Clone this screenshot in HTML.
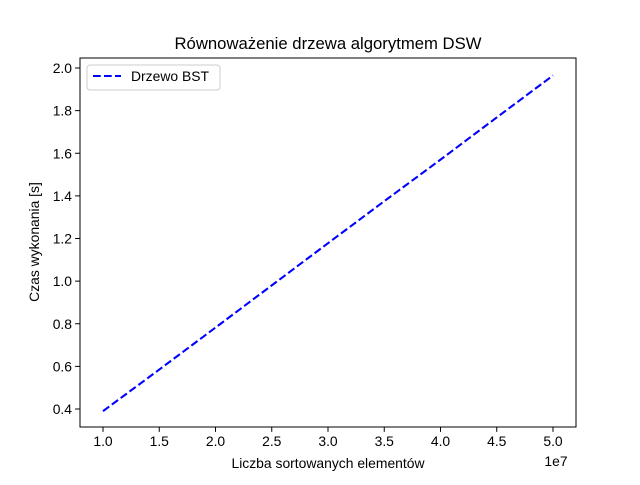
<!DOCTYPE html>
<html><head><meta charset="utf-8"><style>body{margin:0;background:#fff}svg{font-family:"Liberation Sans","DejaVu Sans",sans-serif}</style></head>
<body>
<svg id="chart" width="640" height="480">
<rect x="0" y="0" width="640" height="480" fill="#fff"/>
<text x="328" y="49" font-size="16.7" text-anchor="middle">Równoważenie drzewa algorytmem DSW</text>
<g id="plot"></g>
<rect x="80" y="58" width="496" height="369" fill="none" stroke="#000" stroke-width="1"/>
<text x="328" y="468" font-size="13.9" text-anchor="middle">Liczba sortowanych elementów</text>
<text x="556" y="466" font-size="13.9" text-anchor="middle">1e7</text>
<text transform="translate(39,242) rotate(-90)" font-size="13.9" text-anchor="middle">Czas wykonania [s]</text>
<g>
<rect x="87" y="65" width="133" height="25" rx="3" fill="#fff" stroke="#ccc"/>
<line x1="93" y1="76" x2="121" y2="76" stroke="#0000ff" stroke-width="2.08" stroke-dasharray="7.7,3.3"/>
<text x="131" y="81" font-size="13.9">Drzewo BST</text>
</g>
</svg>
<script>
const xs = [1.0, 1.5, 2.0, 2.5, 3.0, 3.5, 4.0, 4.5, 5.0];
const ys = [0.39, 0.585, 0.782, 0.98, 1.178, 1.375, 1.57, 1.768, 1.965];
const xTicks = [1.0, 1.5, 2.0, 2.5, 3.0, 3.5, 4.0, 4.5, 5.0];
const yTicks = [0.4, 0.6, 0.8, 1.0, 1.2, 1.4, 1.6, 1.8, 2.0];
const NS = "http://www.w3.org/2000/svg";
function sx(v){return 103 + (v - 1.0) * 112.5;}
function sy(v){return 409 - (v - 0.4) * 213.125;}
const g = document.getElementById('plot');
function mk(t, a){const e=document.createElementNS(NS,t);for(const k in a)e.setAttribute(k,a[k]);g.appendChild(e);return e;}
xTicks.forEach(t=>{
  const l=mk('line',{x1:sx(t),x2:sx(t),y1:427,y2:431.9,stroke:'#000'});
  
  
  const tx=mk('text',{x:sx(t),y:446,'font-size':13.9,'text-anchor':'middle'});
  tx.textContent=t.toFixed(1);
  
  
});
yTicks.forEach(t=>{
  const l=mk('line',{x1:75.1,x2:80,y1:sy(t),y2:sy(t),stroke:'#000'});
  
  
  const tx=mk('text',{x:72,y:sy(t)+5,'font-size':13.9,'text-anchor':'end'});
  tx.textContent=t.toFixed(1);
  
  
});
const p=mk('polyline',{points:xs.map((x,i)=>sx(x)+','+sy(ys[i])).join(' '),fill:'none',stroke:'#0000ff','stroke-width':2.08,'stroke-dasharray':'7.7,3.3'});


</script>
</body></html>
